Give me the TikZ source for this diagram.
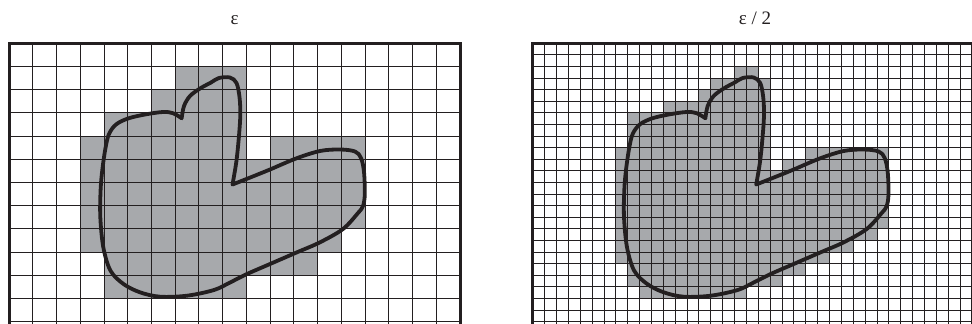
\documentclass[tikz,border=0pt]{standalone}
\usepackage{fontspec}
\setmainfont{Liberation Serif}
\definecolor{cellgrey}{RGB}{167,169,172}
\definecolor{ink}{RGB}{35,31,32}
\begin{document}
\begin{tikzpicture}[x=1pt,y=-1pt,
  cellfill/.style={fill=cellgrey},
  gridline/.style={draw=ink,line width=0.85pt},
  framebox/.style={draw=ink,line width=3pt,line join=miter},
  blobline/.style={draw=ink,line width=3.8pt,line join=round,line cap=round},
  title/.style={font=\fontsize{19}{22}\selectfont,text=ink,anchor=base,inner sep=0pt}]
\useasboundingbox (0,0) rectangle (972,324);
\clip (0,0) rectangle (972,324);
\def\LX{9}\def\LY{43.3}\def\LW{23.74}\def\LH{23.2}
\def\RX{532.7}\def\RW{11.87}\def\RH{11.6}
% titles
\node[title] (t1) at (234.5,24.5) {ε};
\node[title] (t2) at (755,24.5) {ε / 2};
% left grey cells
\foreach \r/\a/\b in {1/7/9,2/6/9,3/4/9,4/3/9,4/11/14,5/3/14,6/3/14,7/3/14,8/3/13,9/4/12,10/4/9}
  \fill[cellfill] ({\LX+\a*\LW},{\LY+\r*\LH}) rectangle ({\LX+(\b+1)*\LW},{\LY+(\r+1)*\LH});
% right grey cells
\foreach \r/\a/\b in {2/17/18,3/15/19,4/14/19,5/11/19,6/8/19,7/8/19,8/8/19,9/7/19,9/23/29,10/7/19,10/21/29,11/7/29,12/7/29,13/7/29,14/7/29,15/7/29,16/7/28,17/7/26,18/7/24,19/8/22,20/8/20,21/9/17}
  \fill[cellfill] ({\RX+\a*\RW},{\LY+\r*\RH}) rectangle ({\RX+(\b+1)*\RW},{\LY+(\r+1)*\RH});
% left grid
\foreach \k in {1,...,18}
  \draw[gridline] ({\LX+\k*\LW},\LY) -- ({\LX+\k*\LW},330);
\foreach \k in {1,...,12}
  \draw[gridline] (\LX,{\LY+\k*\LH}) -- (460,{\LY+\k*\LH});
% right grid
\foreach \k in {1,...,38}
  \draw[gridline] ({\RX+\k*\RW},\LY) -- ({\RX+\k*\RW},330);
\foreach \k in {1,...,25}
  \draw[gridline] (\RX,{\LY+\k*\RH}) -- (990,{\LY+\k*\RH});
% frames
\draw[framebox] (\LX,330) -- (\LX,\LY) -- (460,\LY) -- (460,330);
\draw[framebox] (\RX,330) -- (\RX,\LY) -- (990,\LY);
% blob outline
\def\blob{%
  plot[smooth,tension=0.55] coordinates {(181.7,118.3) (184,106) (190,96) (200,88.5) (211,82.5) (219,78) (230,77.5) (236.5,83) (239.5,97) (240.3,115) (238.8,138) (236.3,162) (232.5,184.5)}
  -- plot[smooth,tension=0.55] coordinates {(232.5,184.5) (249,178) (270,169.5) (296,158.5) (320,151) (340,149.5) (355,151.5) (361,158) (364,172) (364.8,194) (363,206) (358,213) (343,229) (320,242.3) (297,252.3) (270,264) (247,274) (230,282.5) (214,290) (187,295.7) (160,296.7) (140,292.3) (123.5,284) (110.5,270.7) (103.3,247.3) (100.3,217) (100.6,190) (102.3,170) (105.5,148) (109,134) (116,124.5) (128,118.5) (145,114.5) (163,112) (173,113.2) (181.7,118.3)}
  -- cycle}
\draw[blobline] \blob;
\draw[blobline,shift={(523.7,0)}] \blob;
\end{tikzpicture}
\end{document}
